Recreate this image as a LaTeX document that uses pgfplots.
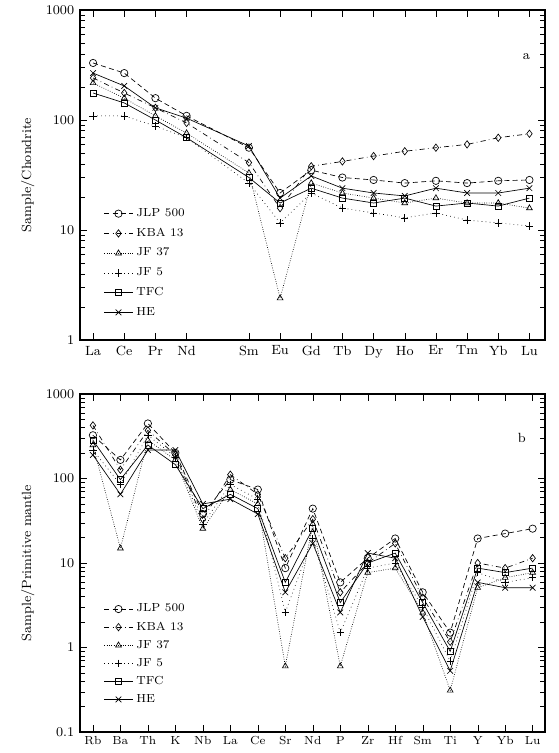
\documentclass[border=0pt]{standalone}
\usepackage{pgfplots}
\usepackage{pgfplotstable}
\pgfplotsset{compat=1.18}

% chondrite-normalised REE (Pm left out, x = 4)
\pgfplotstableread{
x  s1   s2   s3   s4   s5   s6
0  330  241  217  109  176  267
1  267  176  158  109  143  204
2  158  129  109  88   100  129
3  109  94   76   69   69   104
5  56   41   33   26.7 30   58
6  21.7 15.8 2.4  11.6 17.6 19.5
7  35   38   26.7 21.7 24   31
8  30   42   21.7 15.8 19.5 24
9  28.5 47   19.5 14.3 17.6 21.7
10 26.7 52   17.6 12.9 19.5 20.4
11 28   56   19.5 14.3 16.5 24
12 26.7 60   17.6 12.3 17.6 21.7
13 28   69   17.6 11.6 16.5 21.7
14 28.5 75   15.8 10.9 19.5 24
}\reetab

% primitive-mantle-normalised trace elements
\pgfplotstableread{
x  s1   s2   s3   s4   s5   s6
0  325  425  249  217  284  190
1  166  127  14.9 85   97   65
2  448  371  284  325  249  217
3  201  190  166  180  146  217
4  38   33   25.5 29   44   50
5  97   111  74   85   65   57
6  74   65   50   57   44   38
7  8.7  11.4 0.6  2.6  5.9  4.5
8  44   33   29   19.5 25.5 17.1
9  5.9  4.5  0.6  1.5  3.4  2.6
10 11.4 10   7.7  8.7  10   13.1
11 19.5 17.1 8.7  10   13.1 11.4
12 4.5  3.9  2.6  3.0  3.4  2.3
13 1.5  1.17 0.31 0.69 0.9  0.53
14 19.5 10   5.1  7.7  8.7  5.9
15 22.3 8.7  6.7  5.9  7.7  5.1
16 25.5 11.4 7.7  6.7  8.7  5.1
}\spidertab

\tikzset{
  ser1/.style={black, thin, densely dashed, mark=o, mark size=2.2pt, mark options={solid}},
  ser2/.style={black, thin, dashdotted, mark=diamond, mark size=2.2pt, mark options={solid}},
  ser3/.style={black, thin, densely dotted, mark=triangle, mark size=2pt, mark options={solid}},
  ser4/.style={black, thin, dotted, mark=+, mark size=2.2pt, mark options={solid}},
  ser5/.style={black, thin, solid, mark=square, mark size=1.8pt},
  ser6/.style={black, thin, solid, mark=x, mark size=2.4pt},
}

\begin{document}
\begin{tikzpicture}
\path[use as bounding box] (0,0) rectangle (334.8pt,-451.8pt);

\begin{axis}[at={(48pt,-6pt)}, anchor=north west,
  scale only axis, width=279pt, height=198pt,
  ymode=log, ymin=1, ymax=1000, xmin=-0.42, xmax=14.5,
  log ticks with fixed point, /pgf/number format/1000 sep={},
  axis line style={line width=0.8pt},
  tick style={black},
  tick label style={font=\footnotesize},
  xtick={0,1,2,3,5,6,7,8,9,10,11,12,13,14},
  xticklabels={La,Ce,Pr,Nd,Sm,Eu,Gd,Tb,Dy,Ho,Er,Tm,Yb,Lu},
  ylabel={Sample/Chondrite}, ylabel style={font=\footnotesize},
  legend cell align=left,
  legend style={draw=none, fill=none, font=\scriptsize, row sep=1.5pt,
    at={(0.04,0.42)}, anchor=north west},
]
\addplot[ser1] table[x=x,y=s1] {\reetab};
\addplot[ser2] table[x=x,y=s2] {\reetab};
\addplot[ser3] table[x=x,y=s3] {\reetab};
\addplot[ser4] table[x=x,y=s4] {\reetab};
\addplot[ser5] table[x=x,y=s5] {\reetab};
\addplot[ser6] table[x=x,y=s6] {\reetab};
\legend{JLP 500, KBA 13, JF 37, JF 5, TFC, HE}
\node[font=\footnotesize] at (rel axis cs:0.96,0.86) {a};
\end{axis}

\begin{axis}[at={(48pt,-236.4pt)}, anchor=north west,
  scale only axis, width=279pt, height=202.8pt,
  ymode=log, ymin=0.1, ymax=1000, xmin=-0.47, xmax=16.45,
  log ticks with fixed point, /pgf/number format/1000 sep={},
  axis line style={line width=0.8pt},
  tick style={black},
  tick label style={font=\footnotesize},
  xticklabel style={font=\scriptsize, yshift=1pt},
  xtick={0,...,16},
  xticklabels={Rb,Ba,Th,K,Nb,La,Ce,Sr,Nd,P,Zr,Hf,Sm,Ti,Y,Yb,Lu},
  ylabel={Sample/Primitive mantle}, ylabel style={font=\footnotesize},
  legend cell align=left,
  legend style={draw=none, fill=none, font=\scriptsize, row sep=0.5pt,
    at={(0.04,0.40)}, anchor=north west},
]
\addplot[ser1] table[x=x,y=s1] {\spidertab};
\addplot[ser2] table[x=x,y=s2] {\spidertab};
\addplot[ser3] table[x=x,y=s3] {\spidertab};
\addplot[ser4] table[x=x,y=s4] {\spidertab};
\addplot[ser5] table[x=x,y=s5] {\spidertab};
\addplot[ser6] table[x=x,y=s6] {\spidertab};
\legend{JLP 500, KBA 13, JF 37, JF 5, TFC, HE}
\node[font=\footnotesize] at (rel axis cs:0.95,0.87) {b};
\end{axis}
\end{tikzpicture}
\end{document}
